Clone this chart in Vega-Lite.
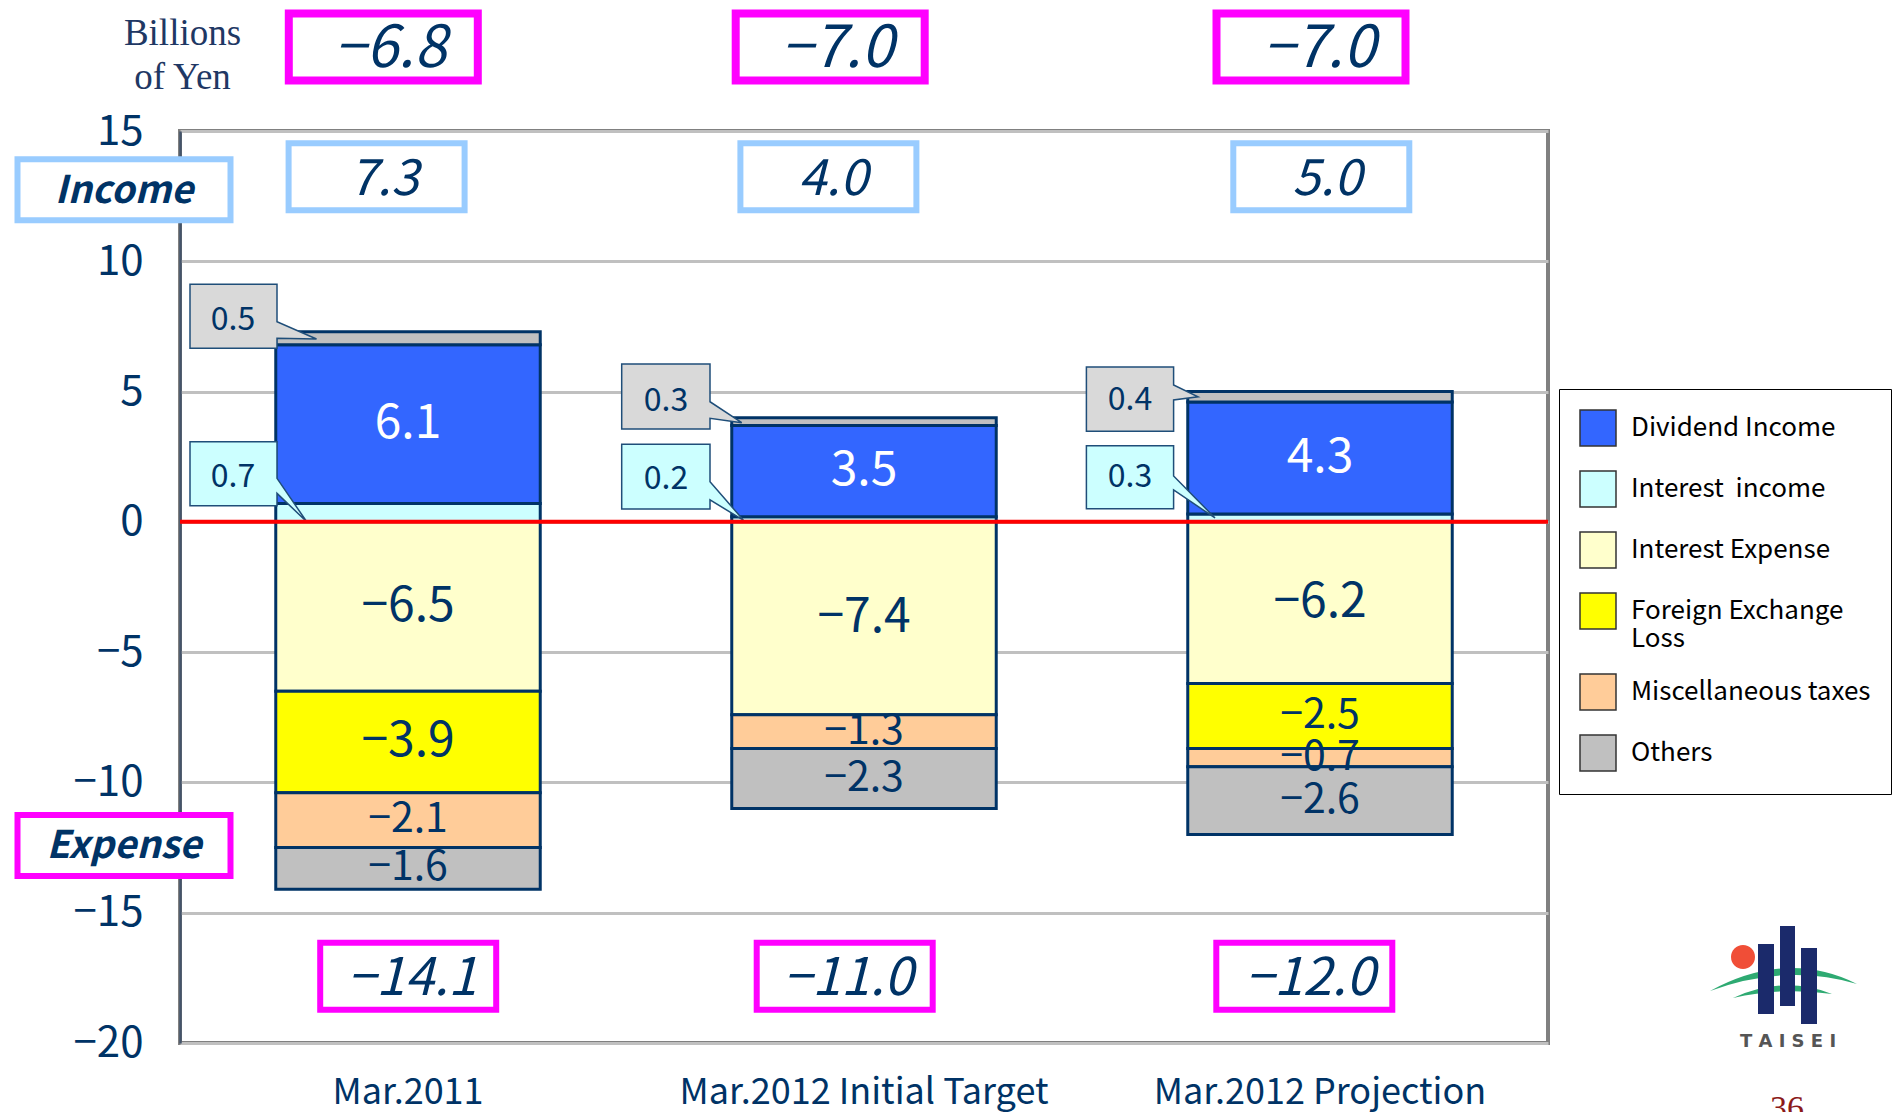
{
  "$schema": "https://vega.github.io/schema/vega-lite/v6.json",
  "width": 1368,
  "height": 912,
  "autosize": {"type": "none"},
  "padding": {"left": 180, "top": 131, "right": 351, "bottom": 69},
  "background": "white",
  "config": {"font": "Noto Sans CJK JP", "view": {"stroke": "#808080", "strokeWidth": 4}},
  "datasets": {
    "parts": [
      {"period": "Mar.2011", "cat": "Interest income", "value": 0.7, "rank": 1},
      {"period": "Mar.2011", "cat": "Dividend Income", "value": 6.1, "rank": 3},
      {"period": "Mar.2011", "cat": "Others", "value": 0.5, "rank": 6},
      {"period": "Mar.2011", "cat": "Interest Expense", "value": -6.5, "rank": 2},
      {"period": "Mar.2011", "cat": "Foreign Exchange Loss", "value": -3.9, "rank": 4},
      {"period": "Mar.2011", "cat": "Miscellaneous taxes", "value": -2.1, "rank": 5},
      {"period": "Mar.2011", "cat": "Others", "value": -1.6, "rank": 6},
      {"period": "Mar.2012 Initial Target", "cat": "Interest income", "value": 0.2, "rank": 1},
      {"period": "Mar.2012 Initial Target", "cat": "Dividend Income", "value": 3.5, "rank": 3},
      {"period": "Mar.2012 Initial Target", "cat": "Others", "value": 0.3, "rank": 6},
      {"period": "Mar.2012 Initial Target", "cat": "Interest Expense", "value": -7.4, "rank": 2},
      {"period": "Mar.2012 Initial Target", "cat": "Miscellaneous taxes", "value": -1.3, "rank": 5},
      {"period": "Mar.2012 Initial Target", "cat": "Others", "value": -2.3, "rank": 6},
      {"period": "Mar.2012 Projection", "cat": "Interest income", "value": 0.3, "rank": 1},
      {"period": "Mar.2012 Projection", "cat": "Dividend Income", "value": 4.3, "rank": 3},
      {"period": "Mar.2012 Projection", "cat": "Others", "value": 0.4, "rank": 6},
      {"period": "Mar.2012 Projection", "cat": "Interest Expense", "value": -6.2, "rank": 2},
      {"period": "Mar.2012 Projection", "cat": "Foreign Exchange Loss", "value": -2.5, "rank": 4},
      {"period": "Mar.2012 Projection", "cat": "Miscellaneous taxes", "value": -0.7, "rank": 5},
      {"period": "Mar.2012 Projection", "cat": "Others", "value": -2.6, "rank": 6}
    ]
  },
  "data": {"name": "parts"},
  "layer": [
    {
      "transform": [
        {"stack": "value", "groupby": ["period"], "sort": [{"field": "rank", "order": "ascending"}], "as": ["y0", "y1"], "offset": "zero"},
        {"calculate": "(datum.y0+datum.y1)/2", "as": "mid"}
      ],
      "layer": [
        {
          "mark": {"type": "bar", "stroke": "#003366", "strokeWidth": 3},
          "encoding": {
            "x": {
              "field": "period", "type": "nominal",
              "scale": {"domain": ["Mar.2011", "Mar.2012 Initial Target", "Mar.2012 Projection"], "paddingInner": 0.42, "paddingOuter": 0.21},
              "axis": {"title": null, "labelAngle": 0, "labelFontSize": 36, "labelColor": "#003366", "labelPadding": 32, "labelLimit": 800, "domain": false, "ticks": false, "grid": false, "labelFont": "Noto Sans CJK JP"}
            },
            "y": {
              "field": "y1", "type": "quantitative",
              "scale": {"domain": [-20, 15], "nice": false, "zero": false},
              "axis": {
                "title": ["Billions", "of Yen"], "values": [-20, -15, -10, -5, 0, 5, 10, 15],
                "labelFontSize": 42, "labelColor": "#003366", "labelPadding": 37, "labelFont": "Noto Sans CJK JP",
                "ticks": false, "domainColor": "#44546A", "domainWidth": 2.5,
                "grid": true, "gridColor": "#C0C0C0", "gridWidth": 3,
                "titleAngle": 0, "titleFont": "Liberation Serif", "titleFontSize": 37, "titleFontWeight": "normal",
                "titleColor": "#1F3864", "titleAlign": "center", "titleBaseline": "top", "titleX": 2, "titleY": -116, "titleLineHeight": 44
              }
            },
            "y2": {"field": "y0"},
            "color": {
              "field": "cat", "type": "nominal",
              "scale": {
                "domain": ["Dividend Income", "Interest income", "Interest Expense", "Foreign Exchange Loss", "Miscellaneous taxes", "Others"],
                "range": ["#3366FF", "#CCFFFF", "#FFFFCC", "#FFFF00", "#FFCC99", "#C0C0C0"]
              },
              "legend": {
                "title": null, "orient": "none", "legendX": 1379, "legendY": 258,
                "strokeColor": "#000000", "fillColor": "white", "padding": 20,
                "symbolType": "square", "symbolSize": 1296, "symbolStrokeColor": "#333333", "symbolStrokeWidth": 1.5, "symbolOpacity": 1,
                "labelFont": "Noto Sans CJK JP", "labelFontSize": 26, "labelColor": "#000000", "labelOffset": 14, "labelLimit": 400,
                "rowPadding": 19,
                "labelExpr": "datum.label == 'Foreign Exchange Loss' ? ['Foreign Exchange', 'Loss'] : datum.label == 'Interest income' ? 'Interest\u00a0 income' : datum.label"
              }
            }
          }
        },
        {
          "transform": [{"filter": "!(datum.rank == 1 || (datum.rank == 6 && datum.value > 0))"}],
          "mark": {"type": "text", "baseline": "middle", "align": "center"},
          "encoding": {
            "x": {"field": "period", "type": "nominal"},
            "y": {"field": "mid", "type": "quantitative"},
            "text": {"field": "value", "type": "quantitative", "format": ".1f"},
            "color": {"condition": {"test": "datum.cat == 'Dividend Income'", "value": "white"}, "value": "#003366"},
            "size": {"condition": {"test": "abs(datum.value) >= 3", "value": 48}, "value": 41}
          }
        },
        {
          "transform": [{"filter": "datum.period == 'Mar.2011' && datum.rank == 6 && datum.value > 0"}],
          "encoding": {"x": {"field": "period", "type": "nominal"}, "y": {"field": "mid", "type": "quantitative"}},
          "layer": [
            {"mark": {"type": "point", "shape": "M-2.18,-0.54H-1.31V-0.165L-0.915,0.008L-1.31,0V0.10H-2.18Z", "size": 40000, "filled": true, "fill": "#D9D9D9", "stroke": "#1F4E79", "strokeWidth": 1.5, "opacity": 1}},
            {"mark": {"type": "text", "dx": -175, "dy": -18, "fontSize": 32, "color": "#003366"}, "encoding": {"text": {"field": "value", "type": "quantitative", "format": ".1f"}}}
          ]
        },
        {
          "transform": [{"filter": "datum.period == 'Mar.2011' && datum.rank == 1"}],
          "encoding": {"x": {"field": "period", "type": "nominal"}, "y": {"field": "mid", "type": "quantitative"}},
          "layer": [
            {"mark": {"type": "point", "shape": "M-2.18,-0.71H-1.31V-0.344L-1.013,0.09L-1.31,-0.194V-0.07H-2.18Z", "size": 40000, "filled": true, "fill": "#CCFFFF", "stroke": "#1F4E79", "strokeWidth": 1.5, "opacity": 1}},
            {"mark": {"type": "text", "dx": -175, "dy": -36, "fontSize": 32, "color": "#003366"}, "encoding": {"text": {"field": "value", "type": "quantitative", "format": ".1f"}}}
          ]
        },
        {
          "transform": [{"filter": "datum.period == 'Mar.2012 Initial Target' && datum.rank == 6 && datum.value > 0"}],
          "encoding": {"x": {"field": "period", "type": "nominal"}, "y": {"field": "mid", "type": "quantitative"}},
          "layer": [
            {"mark": {"type": "point", "shape": "M-2.423,-0.575H-1.54V-0.198L-1.223,0.012L-1.54,-0.032V0.075H-2.423Z", "size": 40000, "filled": true, "fill": "#D9D9D9", "stroke": "#1F4E79", "strokeWidth": 1.5, "opacity": 1}},
            {"mark": {"type": "text", "dx": -198, "dy": -21, "fontSize": 32, "color": "#003366"}, "encoding": {"text": {"field": "value", "type": "quantitative", "format": ".1f"}}}
          ]
        },
        {
          "transform": [{"filter": "datum.period == 'Mar.2012 Initial Target' && datum.rank == 1"}],
          "encoding": {"x": {"field": "period", "type": "nominal"}, "y": {"field": "mid", "type": "quantitative"}},
          "layer": [
            {"mark": {"type": "point", "shape": "M-2.423,-0.75H-1.54V-0.376L-1.207,0.008L-1.54,-0.193V-0.103H-2.423Z", "size": 40000, "filled": true, "fill": "#CCFFFF", "stroke": "#1F4E79", "strokeWidth": 1.5, "opacity": 1}},
            {"mark": {"type": "text", "dx": -198, "dy": -40, "fontSize": 32, "color": "#003366"}, "encoding": {"text": {"field": "value", "type": "quantitative", "format": ".1f"}}}
          ]
        },
        {
          "transform": [{"filter": "datum.period == 'Mar.2012 Projection' && datum.rank == 6 && datum.value > 0"}],
          "encoding": {"x": {"field": "period", "type": "nominal"}, "y": {"field": "mid", "type": "quantitative"}},
          "layer": [
            {"mark": {"type": "point", "shape": "M-2.336,-0.298H-1.464V-0.118L-1.22,0L-1.464,0.032V0.344H-2.336Z", "size": 40000, "filled": true, "fill": "#D9D9D9", "stroke": "#1F4E79", "strokeWidth": 1.5, "opacity": 1}},
            {"mark": {"type": "text", "dx": -190, "dy": 3, "fontSize": 32, "color": "#003366"}, "encoding": {"text": {"field": "value", "type": "quantitative", "format": ".1f"}}}
          ]
        },
        {
          "transform": [{"filter": "datum.period == 'Mar.2012 Projection' && datum.rank == 1"}],
          "encoding": {"x": {"field": "period", "type": "nominal"}, "y": {"field": "mid", "type": "quantitative"}},
          "layer": [
            {"mark": {"type": "point", "shape": "M-2.336,-0.723H-1.464V-0.42L-1.05,0L-1.464,-0.28V-0.093H-2.336Z", "size": 40000, "filled": true, "fill": "#CCFFFF", "stroke": "#1F4E79", "strokeWidth": 1.5, "opacity": 1}},
            {"mark": {"type": "text", "dx": -190, "dy": -41, "fontSize": 32, "color": "#003366"}, "encoding": {"text": {"field": "value", "type": "quantitative", "format": ".1f"}}}
          ]
        }
      ]
    },
    {
      "transform": [
        {"calculate": "max(datum.value, 0)", "as": "pos"},
        {"calculate": "min(datum.value, 0)", "as": "neg"},
        {"aggregate": [{"op": "sum", "field": "pos", "as": "inc"}, {"op": "sum", "field": "neg", "as": "exp"}], "groupby": ["period"]},
        {"calculate": "datum.inc + datum.exp", "as": "net"}
      ],
      "layer": [
        {
          "transform": [{"filter": "datum.period == 'Mar.2011'"}],
          "encoding": {"x": {"field": "period", "type": "nominal"}},
          "layer": [
            {"mark": {"type": "point", "shape": "M-1.192,-0.335H0.698V0.335H-1.192Z", "size": 40000, "filled": true, "fill": "white", "stroke": "#FF00FF", "strokeWidth": 8, "opacity": 1}, "encoding": {"y": {"datum": 18.22, "type": "quantitative"}}},
            {"mark": {"type": "text", "dx": -18, "dy": 3, "fontSize": 58, "fontStyle": "italic", "color": "#003366"}, "encoding": {"y": {"datum": 18.22, "type": "quantitative"}, "text": {"field": "net", "type": "quantitative", "format": ".1f"}}},
            {"mark": {"type": "point", "shape": "M-1.194,-0.335H0.566V0.335H-1.194Z", "size": 40000, "filled": true, "fill": "white", "stroke": "#99CCFF", "strokeWidth": 6, "opacity": 1}, "encoding": {"y": {"datum": 13.24, "type": "quantitative"}}},
            {"mark": {"type": "text", "dx": -24, "dy": 3, "fontSize": 50, "fontStyle": "italic", "color": "#003366"}, "encoding": {"y": {"datum": 13.24, "type": "quantitative"}, "text": {"field": "inc", "type": "quantitative", "format": ".1f"}}},
            {"mark": {"type": "point", "shape": "M-0.878,-0.335H0.882V0.335H-0.878Z", "size": 40000, "filled": true, "fill": "white", "stroke": "#FF00FF", "strokeWidth": 6, "opacity": 1}, "encoding": {"y": {"datum": -17.44, "type": "quantitative"}}},
            {"mark": {"type": "text", "dx": 4, "dy": 3, "fontSize": 52, "fontStyle": "italic", "color": "#003366"}, "encoding": {"y": {"datum": -17.44, "type": "quantitative"}, "text": {"field": "exp", "type": "quantitative", "format": ".1f"}}}
          ]
        },
        {
          "transform": [{"filter": "datum.period == 'Mar.2012 Initial Target'"}],
          "encoding": {"x": {"field": "period", "type": "nominal"}},
          "layer": [
            {"mark": {"type": "point", "shape": "M-1.283,-0.335H0.607V0.335H-1.283Z", "size": 40000, "filled": true, "fill": "white", "stroke": "#FF00FF", "strokeWidth": 8, "opacity": 1}, "encoding": {"y": {"datum": 18.22, "type": "quantitative"}}},
            {"mark": {"type": "text", "dx": -27, "dy": 3, "fontSize": 58, "fontStyle": "italic", "color": "#003366"}, "encoding": {"y": {"datum": 18.22, "type": "quantitative"}, "text": {"field": "net", "type": "quantitative", "format": ".1f"}}},
            {"mark": {"type": "point", "shape": "M-1.236,-0.335H0.524V0.335H-1.236Z", "size": 40000, "filled": true, "fill": "white", "stroke": "#99CCFF", "strokeWidth": 6, "opacity": 1}, "encoding": {"y": {"datum": 13.24, "type": "quantitative"}}},
            {"mark": {"type": "text", "dx": -31, "dy": 3, "fontSize": 50, "fontStyle": "italic", "color": "#003366"}, "encoding": {"y": {"datum": 13.24, "type": "quantitative"}, "text": {"field": "inc", "type": "quantitative", "format": ".1f"}}},
            {"mark": {"type": "point", "shape": "M-1.073,-0.335H0.687V0.335H-1.073Z", "size": 40000, "filled": true, "fill": "white", "stroke": "#FF00FF", "strokeWidth": 6, "opacity": 1}, "encoding": {"y": {"datum": -17.44, "type": "quantitative"}}},
            {"mark": {"type": "text", "dx": -16, "dy": 3, "fontSize": 52, "fontStyle": "italic", "color": "#003366"}, "encoding": {"y": {"datum": -17.44, "type": "quantitative"}, "text": {"field": "exp", "type": "quantitative", "format": ".1f"}}}
          ]
        },
        {
          "transform": [{"filter": "datum.period == 'Mar.2012 Projection'"}],
          "encoding": {"x": {"field": "period", "type": "nominal"}},
          "layer": [
            {"mark": {"type": "point", "shape": "M-1.035,-0.335H0.855V0.335H-1.035Z", "size": 40000, "filled": true, "fill": "white", "stroke": "#FF00FF", "strokeWidth": 8, "opacity": 1}, "encoding": {"y": {"datum": 18.22, "type": "quantitative"}}},
            {"mark": {"type": "text", "dx": -1, "dy": 3, "fontSize": 58, "fontStyle": "italic", "color": "#003366"}, "encoding": {"y": {"datum": 18.22, "type": "quantitative"}, "text": {"field": "net", "type": "quantitative", "format": ".1f"}}},
            {"mark": {"type": "point", "shape": "M-0.867,-0.335H0.893V0.335H-0.867Z", "size": 40000, "filled": true, "fill": "white", "stroke": "#99CCFF", "strokeWidth": 6, "opacity": 1}, "encoding": {"y": {"datum": 13.24, "type": "quantitative"}}},
            {"mark": {"type": "text", "dx": 7, "dy": 3, "fontSize": 50, "fontStyle": "italic", "color": "#003366"}, "encoding": {"y": {"datum": 13.24, "type": "quantitative"}, "text": {"field": "inc", "type": "quantitative", "format": ".1f"}}},
            {"mark": {"type": "point", "shape": "M-1.037,-0.335H0.723V0.335H-1.037Z", "size": 40000, "filled": true, "fill": "white", "stroke": "#FF00FF", "strokeWidth": 6, "opacity": 1}, "encoding": {"y": {"datum": -17.44, "type": "quantitative"}}},
            {"mark": {"type": "text", "dx": -10, "dy": 3, "fontSize": 52, "fontStyle": "italic", "color": "#003366"}, "encoding": {"y": {"datum": -17.44, "type": "quantitative"}, "text": {"field": "exp", "type": "quantitative", "format": ".1f"}}}
          ]
        }
      ]
    },
    {
      "data": {"values": [{}]},
      "layer": [
        {"mark": {"type": "rule", "color": "#FF0000", "strokeWidth": 4}, "encoding": {"y": {"datum": 0, "type": "quantitative"}}},
        {"mark": {"type": "point", "shape": "M-3.905,-0.305H-1.775V0.305H-3.905Z", "size": 40000, "filled": true, "fill": "white", "stroke": "#99CCFF", "strokeWidth": 6, "opacity": 1}, "encoding": {"x": {"datum": "Mar.2011", "type": "nominal"}, "y": {"datum": 12.75, "type": "quantitative"}}},
        {"mark": {"type": "text", "text": "Income", "dx": -284, "dy": 2, "fontSize": 38, "fontStyle": "italic", "fontWeight": "bold", "color": "#003366"}, "encoding": {"x": {"datum": "Mar.2011", "type": "nominal"}, "y": {"datum": 12.75, "type": "quantitative"}}},
        {"mark": {"type": "point", "shape": "M-3.905,-0.305H-1.775V0.305H-3.905Z", "size": 40000, "filled": true, "fill": "white", "stroke": "#FF00FF", "strokeWidth": 6, "opacity": 1}, "encoding": {"x": {"datum": "Mar.2011", "type": "nominal"}, "y": {"datum": -12.42, "type": "quantitative"}}},
        {"mark": {"type": "text", "text": "Expense", "dx": -284, "dy": 2, "fontSize": 38, "fontStyle": "italic", "fontWeight": "bold", "color": "#003366"}, "encoding": {"x": {"datum": "Mar.2011", "type": "nominal"}, "y": {"datum": -12.42, "type": "quantitative"}}},
        {"mark": {"type": "point", "shape": "M3.90,0.0Q4.67,-0.42 5.37,-0.07Q4.67,-0.28 3.90,0.0Z M4.13,0.07Q4.63,-0.16 5.12,0.03Q4.63,-0.04 4.13,0.07Z", "size": 40000, "filled": true, "fill": "#2EAA72", "strokeWidth": 0, "opacity": 1}, "encoding": {"x": {"datum": "Mar.2012 Projection", "type": "nominal"}, "y": {"datum": -18, "type": "quantitative"}}},
        {"mark": {"type": "point", "shape": "M4.38,-0.47H4.54V0.23H4.38Z M4.60,-0.65H4.75V0.15H4.60Z M4.81,-0.43H4.97V0.33H4.81Z", "size": 40000, "filled": true, "fill": "#1B2A6B", "strokeWidth": 0, "opacity": 1}, "encoding": {"x": {"datum": "Mar.2012 Projection", "type": "nominal"}, "y": {"datum": -18, "type": "quantitative"}}},
        {"mark": {"type": "point", "shape": "M4.11,-0.34A0.12,0.12 0 1 0 4.35,-0.34A0.12,0.12 0 1 0 4.11,-0.34Z", "size": 40000, "filled": true, "fill": "#F04E37", "strokeWidth": 0, "opacity": 1}, "encoding": {"x": {"datum": "Mar.2012 Projection", "type": "nominal"}, "y": {"datum": -18, "type": "quantitative"}}},
        {"mark": {"type": "text", "text": "T A I S E I", "dx": 468, "dy": 51, "fontSize": 18, "fontWeight": "bold", "font": "DejaVu Sans", "color": "#555555"}, "encoding": {"x": {"datum": "Mar.2012 Projection", "type": "nominal"}, "y": {"datum": -18, "type": "quantitative"}}},
        {"mark": {"type": "text", "text": "36", "dx": 467, "dy": 101, "baseline": "top", "fontSize": 34, "font": "Liberation Serif", "color": "#8B1A1A"}, "encoding": {"x": {"datum": "Mar.2012 Projection", "type": "nominal"}, "y": {"datum": -18, "type": "quantitative"}}}
      ]
    }
  ]
}
